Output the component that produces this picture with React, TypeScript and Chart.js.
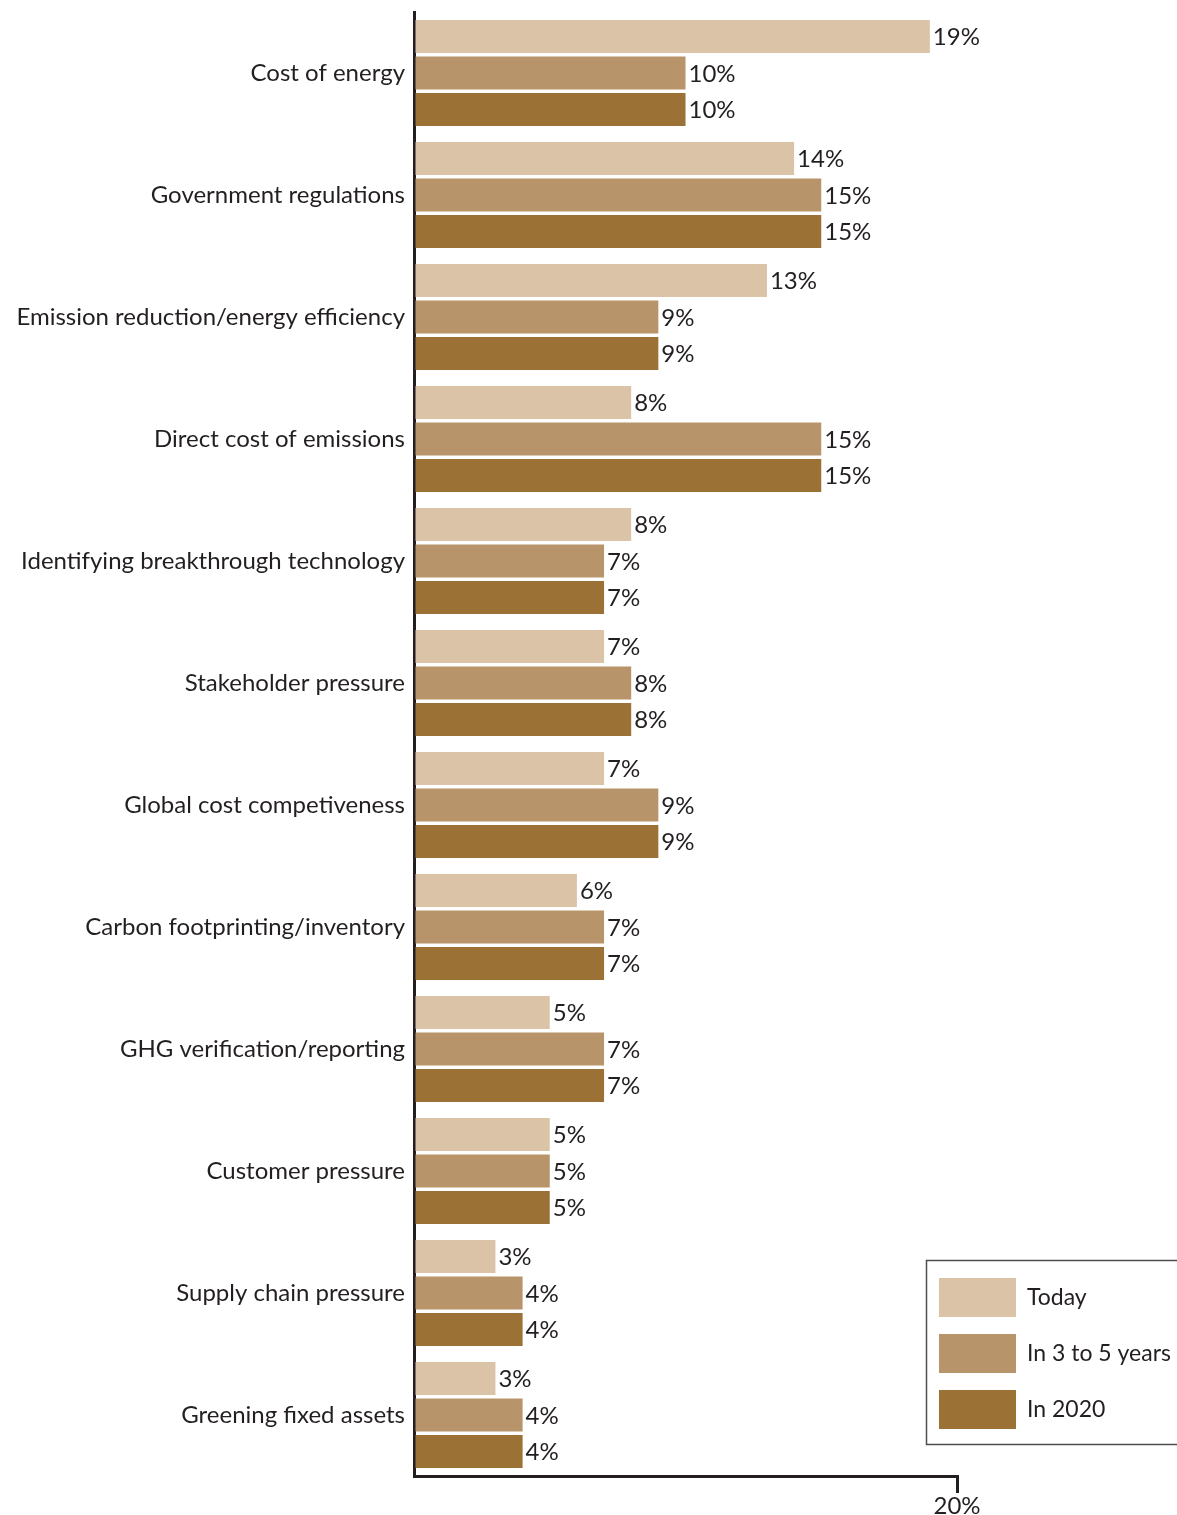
import React, { useEffect, useRef } from 'react';
import { Chart, registerables } from 'chart.js';

Chart.register(...registerables);

const categories = [
  'Cost of energy',
  'Government regulations',
  'Emission reduction/energy efficiency',
  'Direct cost of emissions',
  'Identifying breakthrough technology',
  'Stakeholder pressure',
  'Global cost competiveness',
  'Carbon footprinting/inventory',
  'GHG verification/reporting',
  'Customer pressure',
  'Supply chain pressure',
  'Greening fixed assets',
];
const seriesLabels = ['Today', 'In 3 to 5 years', 'In 2020'];
const todayValues = [19, 14, 13, 8, 8, 7, 7, 6, 5, 5, 3, 3];
const in3to5Values = [10, 15, 9, 15, 7, 8, 9, 7, 7, 5, 4, 4];
const in2020Values = [10, 15, 9, 15, 7, 8, 9, 7, 7, 5, 4, 4];
const seriesColors = ['#dac3a7', '#b79469', '#9c7135'];
const xMin = 0;
const xMax = 20;
const xTickLabel = '20%';

const FONT = 'Lato, "Open Sans", sans-serif';
const TEXT = '#231f20';

const valueLabels = {
  id: 'valueLabels',
  afterDatasetsDraw(chart: any) {
    const ctx = chart.ctx;
    ctx.save();
    ctx.font = `24px ${FONT}`;
    ctx.fillStyle = TEXT;
    ctx.textAlign = 'left';
    ctx.textBaseline = 'middle';
    chart.data.datasets.forEach((ds: any, i: number) => {
      const meta = chart.getDatasetMeta(i);
      meta.data.forEach((el: any, j: number) => {
        ctx.fillText(`${ds.data[j]}%`, el.x + 3, el.y + 1);
      });
    });
    ctx.restore();
  },
};

const boxLegend = {
  id: 'boxLegend',
  afterDraw(chart: any) {
    const ctx = chart.ctx;
    ctx.save();
    ctx.strokeStyle = '#4d4d4d';
    ctx.lineWidth = 1.5;
    ctx.strokeRect(926.5, 1260.5, 300, 184);
    ctx.font = `23px ${FONT}`;
    ctx.textAlign = 'left';
    ctx.textBaseline = 'middle';
    chart.data.datasets.forEach((ds: any, i: number) => {
      const top = 1278 + i * 56;
      ctx.fillStyle = ds.backgroundColor;
      ctx.fillRect(939, top, 77, 39);
      ctx.fillStyle = TEXT;
      ctx.fillText(ds.label, 1027, top + 20);
    });
    ctx.restore();
  },
};

export default function App() {
  const ref = useRef<HTMLCanvasElement | null>(null);

  useEffect(() => {
    if (!ref.current) return;
    const seriesData = [todayValues, in3to5Values, in2020Values];
    const chart = new Chart(ref.current, {
      type: 'bar',
      data: {
        labels: categories,
        datasets: seriesLabels.map((label, i) => ({
          label,
          data: seriesData[i],
          backgroundColor: seriesColors[i],
          borderWidth: 0,
          categoryPercentage: 0.8975,
          barPercentage: 0.9,
        })),
      },
      options: {
        indexAxis: 'y',
        responsive: false,
        animation: false,
        layout: { padding: { top: 12, right: 220, left: 0, bottom: 0 } },
        plugins: {
          legend: { display: false },
          tooltip: { enabled: false },
        },
        scales: {
          x: {
            min: xMin,
            max: xMax,
            afterFit: (scale: any) => {
              scale.height = 39;
            },
            ticks: {
              stepSize: 20,
              maxRotation: 0,
              autoSkip: false,
              padding: -1,
              color: TEXT,
              font: { family: FONT, size: 24 },
              callback: (v: any) => (v === xMax ? xTickLabel : ''),
            },
            grid: {
              display: true,
              drawOnChartArea: false,
              drawTicks: true,
              tickLength: 17,
              tickWidth: 3,
              lineWidth: 3,
              color: 'rgba(0,0,0,0)',
              tickColor: (ctx: any) =>
                ctx.tick && ctx.tick.value === xMax ? TEXT : 'rgba(0,0,0,0)',
            },
            border: { display: true, color: TEXT, width: 3 },
          },
          y: {
            afterFit: (scale: any) => {
              scale.width = 414;
              scale.paddingTop = 0;
              scale.paddingBottom = 0;
            },
            ticks: {
              padding: 9,
              color: TEXT,
              autoSkip: false,
              font: { family: FONT, size: 24 },
            },
            grid: {
              display: true,
              drawOnChartArea: false,
              drawTicks: false,
              color: 'rgba(0,0,0,0)',
              lineWidth: 0,
            },
            border: { display: true, color: TEXT, width: 3 },
          },
        },
      },
      plugins: [valueLabels, boxLegend],
    });
    return () => chart.destroy();
  }, []);

  return (
    <div
      style={{
        position: 'absolute',
        left: 0,
        top: 0,
        width: 1177,
        height: 1515,
        overflow: 'hidden',
        background: '#fff',
      }}
    >
      <canvas ref={ref} width={1177} height={1515} style={{ display: 'block' }} />
    </div>
  );
}
